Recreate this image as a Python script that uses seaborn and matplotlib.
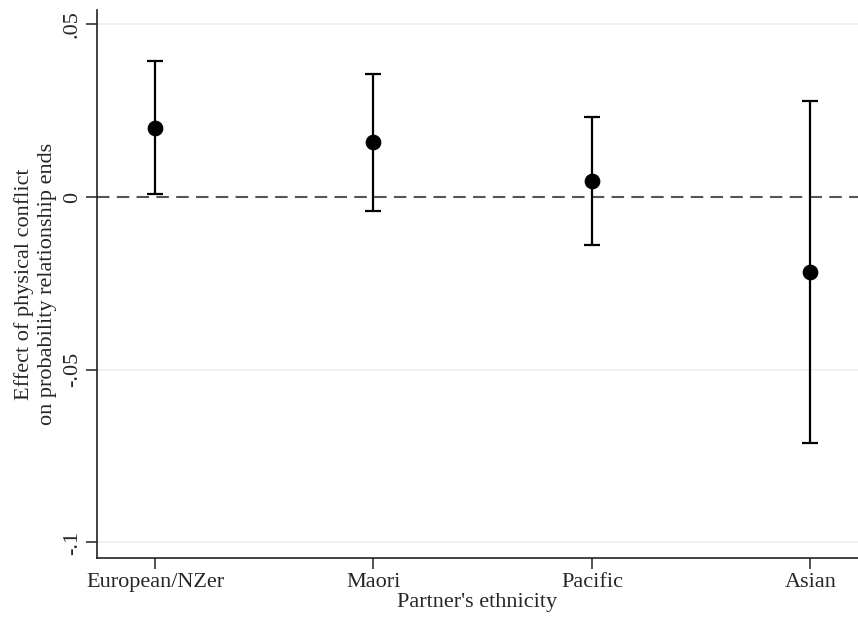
import seaborn as sns
import matplotlib.pyplot as plt
import pandas as pd

# -------------- DONNEES -------------------#

categories = ["European/NZer", "Maori", "Pacific", "Asian"]
effet = [0.0201, 0.0159, 0.0047, -0.0217]
ic_bas = [0.0010, -0.0040, -0.0140, -0.0711]
ic_haut = [0.0393, 0.0356, 0.0232, 0.0279]

y_ticks = [0.05, 0, -0.05, -0.1]
y_tick_labels = [".05", "0", "-.05", "-.1"]

# -------------- FIGURE -------------------#

sns.set_theme(style="white")
plt.rcParams['font.family'] = ['Liberation Serif', 'DejaVu Serif']

df = pd.DataFrame({"ethnie": categories, "effet": effet,
                   "bas": ic_bas, "haut": ic_haut})

fig = plt.figure(figsize=(8.58, 6.18), dpi=100)
ax = fig.add_axes([0.113, 0.0976, 0.887, 0.886])

# lignes de grille et ligne zero
for t in y_ticks:
    if t != 0:
        ax.axhline(t, color="#e9f0f3", lw=1.2, zorder=0)
ax.axhline(0, color="#555555", lw=1.5, linestyle=(0, (6, 3.5)), zorder=1)

# intervalles de confiance
yerr = [df["effet"] - df["bas"], df["haut"] - df["effet"]]
ax.errorbar(df["ethnie"], df["effet"], yerr=yerr, fmt="none",
            ecolor="black", elinewidth=1.6, capsize=6, capthick=1.6, zorder=2)

sns.scatterplot(data=df, x="ethnie", y="effet", ax=ax, color="black",
                s=110, edgecolor="black", zorder=3)

ax.set_ylim(-0.1044, 0.0541)
ax.set_xlim(-0.266, 3.218)
ax.set_yticks(y_ticks)
ax.set_yticklabels(y_tick_labels, rotation=90, va="center")

ax.set_xlabel("Partner's ethnicity", fontsize=16, labelpad=1)
ax.set_ylabel("Effect of physical conflict\non probability relationship ends",
              fontsize=16, labelpad=4, linespacing=1.3)

ax.tick_params(axis="both", labelsize=16, length=8, width=1.2,
               color="#333333", direction="out", bottom=True, left=True, pad=3)

for s in ["top", "right"]:
    ax.spines[s].set_visible(False)
for s in ["left", "bottom"]:
    ax.spines[s].set_color("#222222")
    ax.spines[s].set_linewidth(1.2)

plt.savefig("out.png", dpi=100)
plt.close()
